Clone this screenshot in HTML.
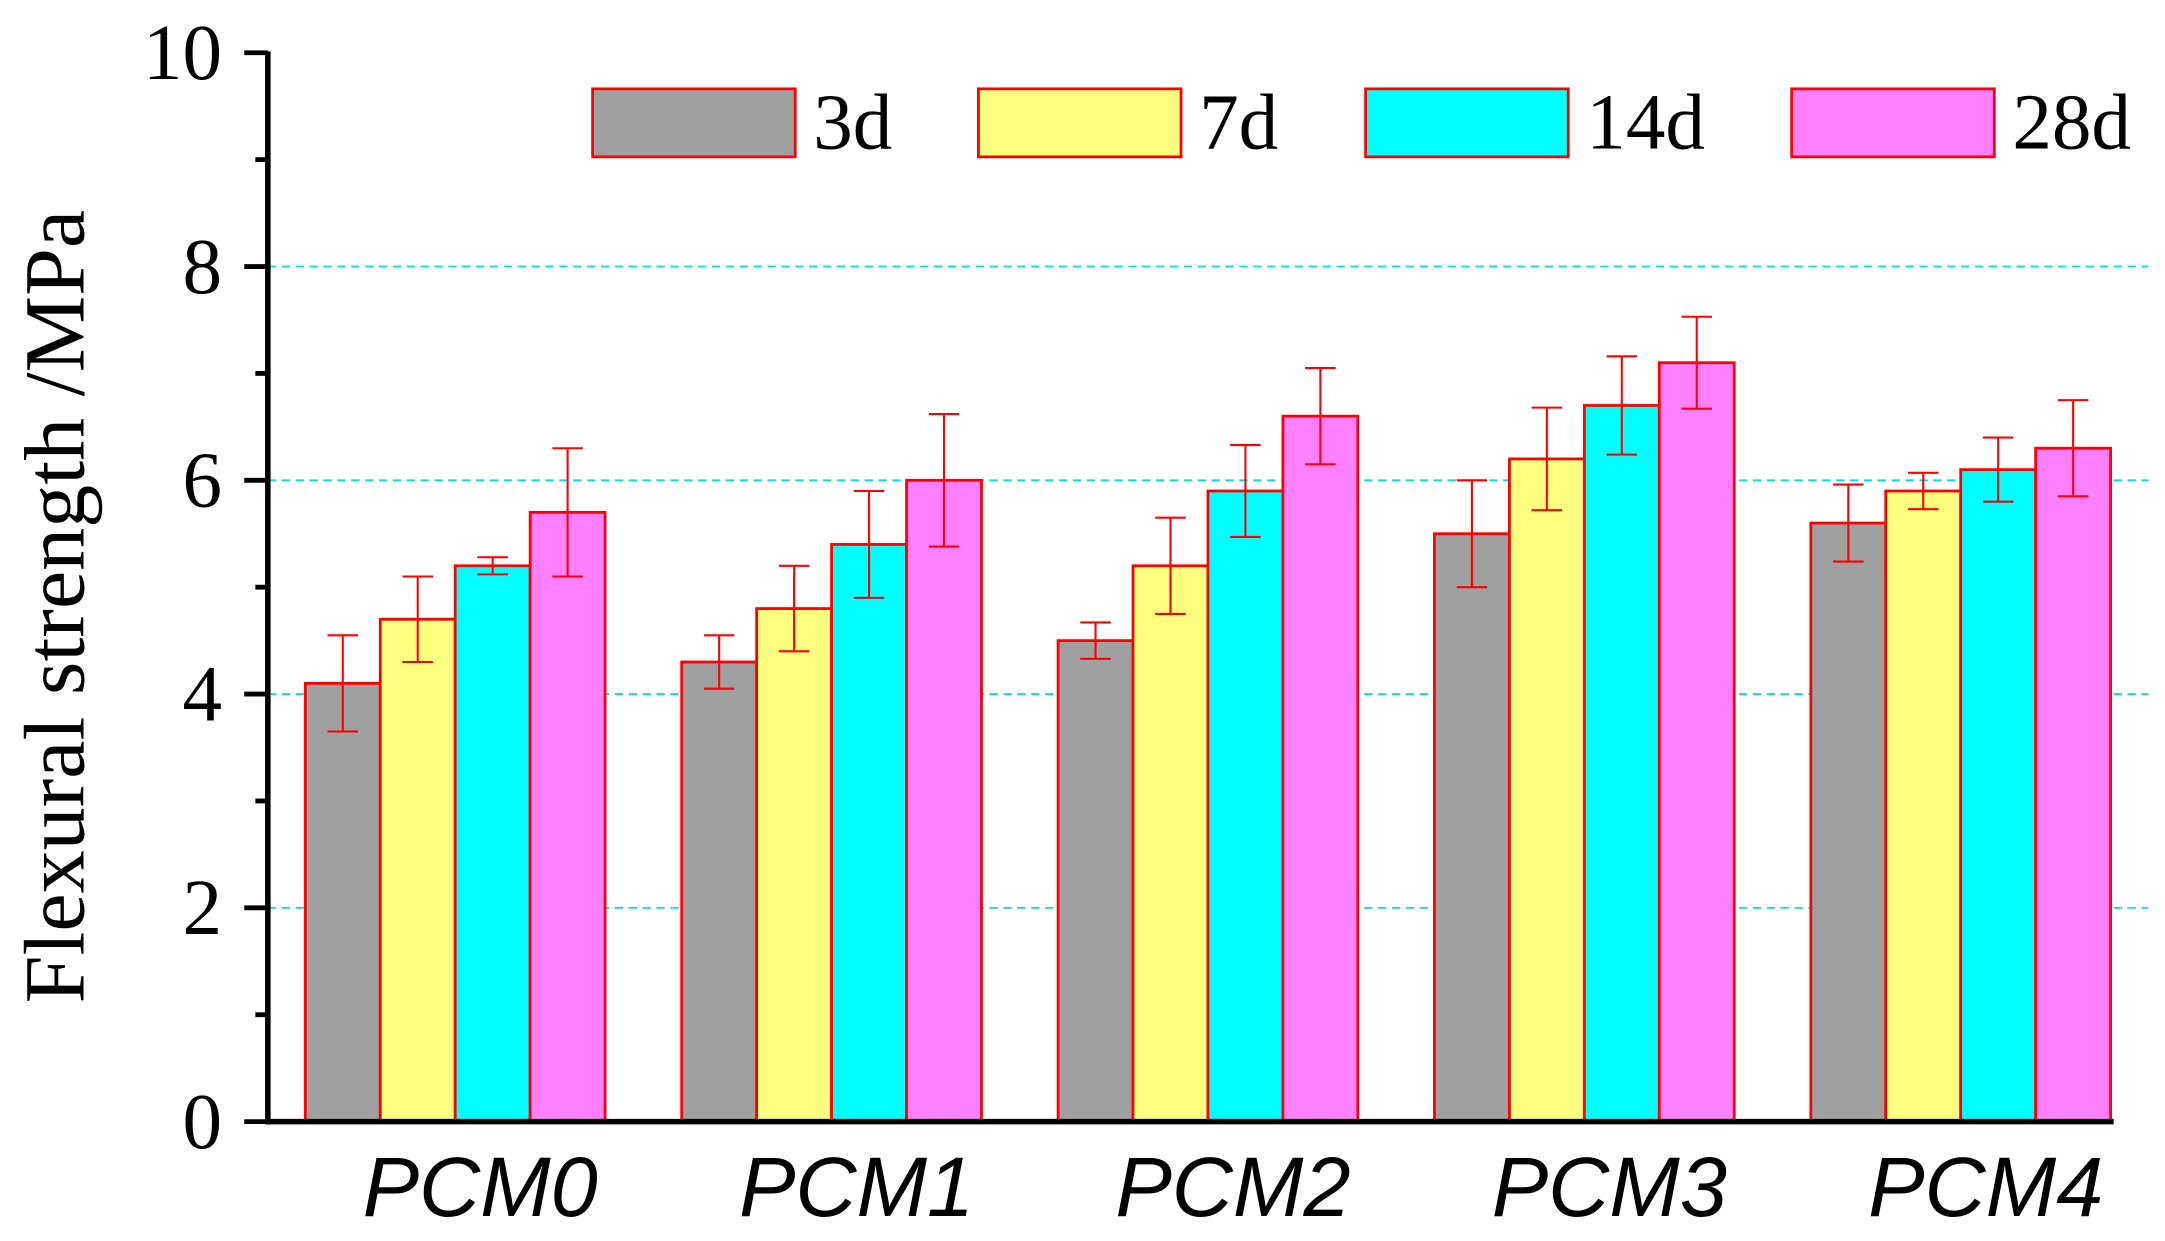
<!DOCTYPE html>
<html><head><meta charset="utf-8"><style>
html,body{margin:0;padding:0;background:#fff;}
svg{display:block;}
</style></head><body>
<svg id="chart" width="2165" height="1241" viewBox="0 0 1560 894" preserveAspectRatio="none" xmlns="http://www.w3.org/2000/svg"></svg>
<script>
const categories = ["PCM0","PCM1","PCM2","PCM3","PCM4"];
const seriesNames = ["3d","7d","14d","28d"];
const seriesColors = ["#a0a0a0","#ffff80","#00ffff","#ff80ff"];
const values3d = [4.1,4.3,4.5,5.5,5.6];
const values7d = [4.7,4.8,5.2,6.2,5.9];
const values14d = [5.2,5.4,5.9,6.7,6.1];
const values28d = [5.7,6.0,6.6,7.1,6.3];
const err3d = [0.45,0.25,0.17,0.5,0.36];
const err7d = [0.4,0.4,0.45,0.48,0.17];
const err14d = [0.08,0.5,0.43,0.46,0.3];
const err28d = [0.6,0.62,0.45,0.43,0.45];
const yTicks = [0,2,4,6,8,10];
const gridValues = [2,4,6,8];

const svg = document.getElementById('chart');
const NS = 'http://www.w3.org/2000/svg';
const X0 = 193, Y0 = 808, PXU = 77;
const GROUP0 = 220, GROUPW = 271.2, BARW = 54;
function y(v){ return Y0 - v*PXU; }
function xBar(g,s){ return GROUP0 + g*GROUPW + s*BARW; }
function mk(tag, attrs){ const e=document.createElementNS(NS,tag); for(const k in attrs) e.setAttribute(k,attrs[k]); svg.appendChild(e); return e; }

gridValues.forEach(v=>{
  const l = mk('line',{x1:X0,x2:1548,y1:y(v),y2:y(v),stroke:'#00e0e0','stroke-width':1.3,'stroke-dasharray':'6,4'});
  
  
});

const vals = [values3d,values7d,values14d,values28d];
const errs = [err3d,err7d,err14d,err28d];
categories.forEach((c,g)=>{
  for(let s=0;s<4;s++){
    const v = vals[s][g];
    const r = mk('rect',{x:xBar(g,s),y:y(v),width:BARW,height:Y0-y(v),fill:seriesColors[s],stroke:'#ff0000','stroke-width':2});
    
    
  }
  for(let s=0;s<4;s++){
    const v = vals[s][g], e = errs[s][g], cx = xBar(g,s)+BARW/2;
    const p = mk('path',{d:`M${cx},${y(v+e)}V${y(v-e)}M${cx-11},${y(v+e)}H${cx+11}M${cx-11},${y(v-e)}H${cx+11}`,stroke:'#ff0000','stroke-width':1.5,fill:'none'});
    
    
  }
  const t = mk('text',{x:GROUP0+g*GROUPW+BARW*2+18,y:876,'font-family':'Liberation Sans, sans-serif','font-style':'italic','font-size':61,'text-anchor':'middle',fill:'#000'});
  t.textContent = c;
  
  
});

let a = mk('line',{x1:X0,x2:X0,y1:y(10)-1,y2:Y0+2,stroke:'#000','stroke-width':4});


a = mk('line',{x1:X0-2,x2:1523,y1:Y0,y2:Y0,stroke:'#000','stroke-width':4});


for(let v=0; v<=10; v++){
  const major = v%2===0;
  const tk = mk('line',{x1:X0-(major?17:9),x2:X0,y1:y(v),y2:y(v),stroke:'#000','stroke-width':3.5});
  
  
}
yTicks.forEach(v=>{
  const t = mk('text',{x:160,y:y(v)+19,'font-family':'Liberation Serif, serif','font-size':57,'text-anchor':'end',fill:'#000'});
  t.textContent = String(v);
  
  
});
const yt = mk('text',{x:0,y:0,transform:'translate(60,437) rotate(-90)','font-family':'Liberation Serif, serif','font-size':62,'text-anchor':'middle',fill:'#000'});
yt.textContent = 'Flexural strength /MPa';



const legX = [427,705,984,1291];
seriesNames.forEach((n,i)=>{
  const r = mk('rect',{x:legX[i],y:64,width:146,height:49,fill:seriesColors[i],stroke:'#ff0000','stroke-width':2});
  
  
  const t = mk('text',{x:legX[i]+159,y:107,'font-family':'Liberation Serif, serif','font-size':57,fill:'#000'});
  t.textContent = n;
  
  
});
</script>
</body></html>
